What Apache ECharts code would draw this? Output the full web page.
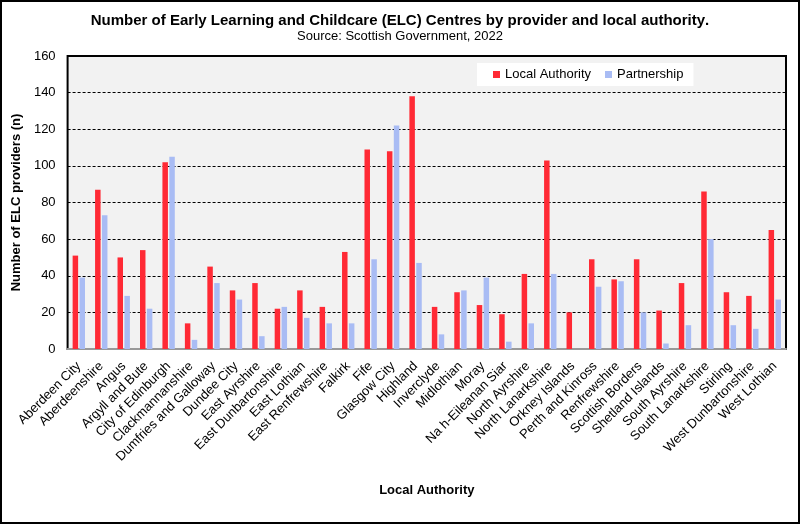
<!DOCTYPE html>
<html>
<head>
<meta charset="utf-8">
<script src="https://cdn.jsdelivr.net/npm/echarts@6/dist/echarts.min.js"></script>
<style>
html,body{margin:0;padding:0;background:#fff;}
#c{width:800px;height:524px;box-sizing:border-box;border:2px solid #000;}
</style>
</head>
<body>
<div id="c"></div>
<script>
const categories = ["Aberdeen City","Aberdeenshire","Angus","Argyll and Bute","City of Edinburgh","Clackmannanshire","Dumfries and Galloway","Dundee City","East Ayrshire","East Dunbartonshire","East Lothian","East Renfrewshire","Falkirk","Fife","Glasgow City","Highland","Inverclyde","Midlothian","Moray","Na h-Eileanan Siar","North Ayrshire","North Lanarkshire","Orkney Islands","Perth and Kinross","Renfrewshire","Scottish Borders","Shetland Islands","South Ayrshire","South Lanarkshire","Stirling","West Dunbartonshire","West Lothian"];
const localAuthority = [51,87,50,54,102,14,45,32,36,22,32,23,53,109,108,138,23,31,24,19,41,103,20,49,38,49,21,36,86,31,29,65];
const partnership = [39,73,29,22,105,5,36,27,7,23,17,14,14,49,122,47,8,32,39,4,14,41,0,34,37,20,3,13,60,13,11,27];
const yTicks = [0,20,40,60,80,100,120,140,160];

const chart = echarts.init(document.getElementById('c'), null, {renderer:'canvas'});
const FONT = 'Liberation Sans, Arial, sans-serif';
chart.setOption({
  animation:false,
  textStyle:{fontFamily:FONT},
  title:{
    text:'{b|Number of Early Learning and Childcare (ELC) Centres by provider and local authority}{n|.}',
    subtext:'Source: Scottish Government, 2022',
    left:'center', top:6, itemGap:2,
    textStyle:{rich:{b:{fontSize:15,fontWeight:'bold',color:'#000',fontFamily:FONT},n:{fontSize:15,color:'#000',fontFamily:FONT}}},
    subtextStyle:{fontSize:13,color:'#000',fontFamily:FONT}
  },
  legend:{
    left:475, top:61,
    backgroundColor:'#fff',
    padding:[5,10,5,16],
    itemWidth:7,itemHeight:7,itemGap:14,
    icon:'rect',
    textStyle:{fontSize:13,color:'#000',fontFamily:FONT},
    data:['Local Authority','Partnership']
  },
  grid:{left:59,right:12,top:54,bottom:173,show:true,backgroundColor:'#f2f2f2',borderColor:'#000',borderWidth:2,containLabel:false},
  xAxis:{
    type:'category', data:categories,
    name:'Local Authority', nameLocation:'middle', nameGap:135,
    nameTextStyle:{fontSize:13,fontWeight:'bold',color:'#000',fontFamily:FONT},
    axisLine:{show:true,lineStyle:{color:'#999',width:2}},
    axisTick:{show:false},
    axisLabel:{rotate:45,fontSize:13,color:'#000',margin:15,interval:0,fontFamily:FONT}
  },
  yAxis:{
    type:'value', min:0, max:160, interval:20,
    name:'Number of ELC providers (n)', nameLocation:'middle', nameGap:37,
    nameTextStyle:{fontSize:13,fontWeight:'bold',color:'#000',fontFamily:FONT},
    axisLine:{show:false}, axisTick:{show:false},
    axisLabel:{fontSize:13,color:'#000',margin:12,fontFamily:FONT,
      formatter:function(v){return yTicks.indexOf(v)>=0?String(v):'';}},
    splitLine:{show:true,lineStyle:{color:'#000',type:[3,2],width:1}}
  },
  series:[
    {name:'Local Authority',type:'bar',data:localAuthority,barWidth:5.5,barGap:'25%',itemStyle:{color:'#ff2a35'}},
    {name:'Partnership',type:'bar',data:partnership,barWidth:5.5,itemStyle:{color:'#a9bcf4'}}
  ]
});
</script>
</body>
</html>
